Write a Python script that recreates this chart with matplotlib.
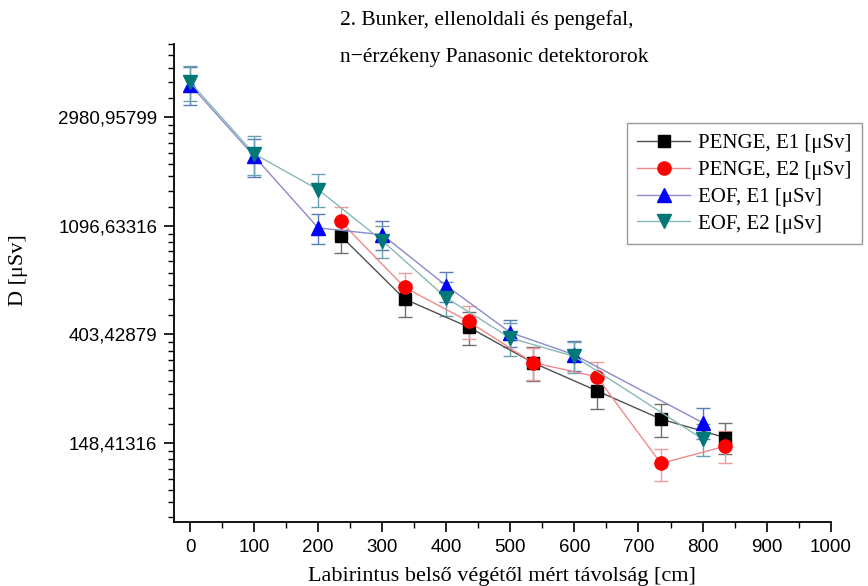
"""
plot.py - Bunker 2 dose vs. distance along the labyrinth

Neutron-sensitive Panasonic detectors, blade wall (PENGE) and opposite
wall (EOF), two detector elements each. Log-e y axis like the Origin plot.
"""
import numpy as np
import matplotlib
matplotlib.use("Agg")
import matplotlib.pyplot as plt
from matplotlib.ticker import FixedLocator, NullFormatter

# --- data ---
penge_x = [235, 335, 435, 535, 635, 735, 835]
penge_e1 = [1000, 558, 431, 311, 240, 185, 156]
penge_e1_err = [150, 85, 65, 48, 37, 28, 22]
penge_e2 = [1141, 621, 454, 311, 273, 123, 144]
penge_e2_err = [160, 89, 68, 45, 39, 18, 21]

eof_x = [0, 100, 200, 300, 400, 500, 600, 800]
eof_e1 = [4018, 2077, 1074, 1009, 631, 410, 334, 179]
eof_e1_err = [700, 360, 150, 132, 88, 51, 46, 25]
eof_e2 = [4108, 2124, 1528, 955, 564, 390, 329, 154]
eof_e2_err = [660, 370, 230, 140, 86, 59, 47, 22]

series_labels = ["PENGE, E1 [\u03bcSv]", "PENGE, E2 [\u03bcSv]",
                 "EOF, E1 [\u03bcSv]", "EOF, E2 [\u03bcSv]"]

ytick_values = [np.exp(5), np.exp(6), np.exp(7), np.exp(8)]
ytick_labels = ["148,41316", "403,42879", "1096,63316", "2980,95799"]
xtick_values = list(range(0, 1001, 100))

title_lines = ["2. Bunker, ellenoldali \u00e9s pengefal,",
               "n\u2212\u00e9rz\u00e9keny Panasonic detektororok"]
xlabel = "Labirintus bels\u0151 v\u00e9g\u00e9t\u0151l m\u00e9rt t\u00e1vols\u00e1g [cm]"
ylabel = "D [\u03bcSv]"

SERIF = ["Liberation Serif", "DejaVu Serif"]
SANS = ["Liberation Sans", "DejaVu Sans"]


def draw_series(ax, x, y, err, marker, mcolor, lcolor, ecolor, ms, label):
    """One Origin-style series: thin light line, solid marker, capped bars."""
    ax.errorbar(x, y, yerr=err, fmt="none", ecolor=ecolor, elinewidth=1.0,
                capsize=5, capthick=1.0, zorder=2)
    ax.plot(x, y, color=lcolor, linewidth=1.0, marker=marker, markersize=ms,
            markerfacecolor=mcolor, markeredgecolor=mcolor, label=label,
            zorder=3)


def make_plot(save_path="out.png"):
    fig = plt.figure(figsize=(8.68, 5.86), dpi=100)
    ax = fig.add_axes([0.2005, 0.1092, 0.7565, 0.8158])

    draw_series(ax, penge_x, penge_e1, penge_e1_err, "s", "black",
                "#505050", "#707070", 8, series_labels[0])
    draw_series(ax, penge_x, penge_e2, penge_e2_err, "o", "#ff0000",
                "#f08a8a", "#f09a9a", 9.5, series_labels[1])
    draw_series(ax, eof_x, eof_e1, eof_e1_err, "^", "#0000ff",
                "#8a8acc", "#5a7ab8", 9.5, series_labels[2])
    draw_series(ax, eof_x, eof_e2, eof_e2_err, "v", "#007878",
                "#88b8b8", "#6aa0b0", 9.5, series_labels[3])

    # log-e axis, linear minor ticks inside each e-interval (Origin style)
    ax.set_yscale("log", base=np.e)
    ax.set_ylim(np.exp(4.273), np.exp(8.672))
    ax.set_xlim(-25, 1000)
    ax.yaxis.set_major_locator(FixedLocator(ytick_values))
    ax.set_yticklabels(ytick_labels)
    minor = []
    for k in range(4, 9):
        minor.extend(np.linspace(np.exp(k), np.exp(k + 1), 10)[1:-1])
    ax.yaxis.set_minor_locator(FixedLocator(minor))
    ax.yaxis.set_minor_formatter(NullFormatter())
    ax.set_xticks(xtick_values)
    ax.xaxis.set_minor_locator(FixedLocator(np.arange(50, 1000, 100)))
    ax.xaxis.set_minor_formatter(NullFormatter())

    for side in ["top", "right"]:
        ax.spines[side].set_visible(False)
    for side in ["left", "bottom"]:
        ax.spines[side].set_linewidth(1.3)
    ax.tick_params(which="major", direction="out", length=7, width=1.2,
                   labelsize=13.5, pad=5)
    ax.tick_params(which="minor", direction="out", length=4, width=1.0)
    for lab in ax.get_xticklabels() + ax.get_yticklabels():
        lab.set_family(SANS)

    ax.set_xlabel(xlabel, family=SERIF, fontsize=16, labelpad=8)
    ax.set_ylabel(ylabel, family=SERIF, fontsize=16)
    ax.yaxis.set_label_coords(-0.222, 0.527)

    fig.text(0.392, 0.9573, title_lines[0], family=SERIF, fontsize=15.5,
             va="baseline")
    fig.text(0.392, 0.8947, title_lines[1], family=SERIF, fontsize=15.5,
             va="baseline")

    leg = ax.legend(loc="upper left", bbox_to_anchor=(0.7224, 0.79),
                    bbox_transform=fig.transFigure, frameon=True,
                    fancybox=False, edgecolor="#808080", handlelength=2.5,
                    prop={"family": SERIF, "size": 15}, labelspacing=0.35,
                    borderpad=0.5, handletextpad=0.4, borderaxespad=0)
    leg.get_frame().set_linewidth(1.0)

    fig.savefig(save_path, dpi=100)
    plt.close(fig)


if __name__ == "__main__":
    make_plot()
